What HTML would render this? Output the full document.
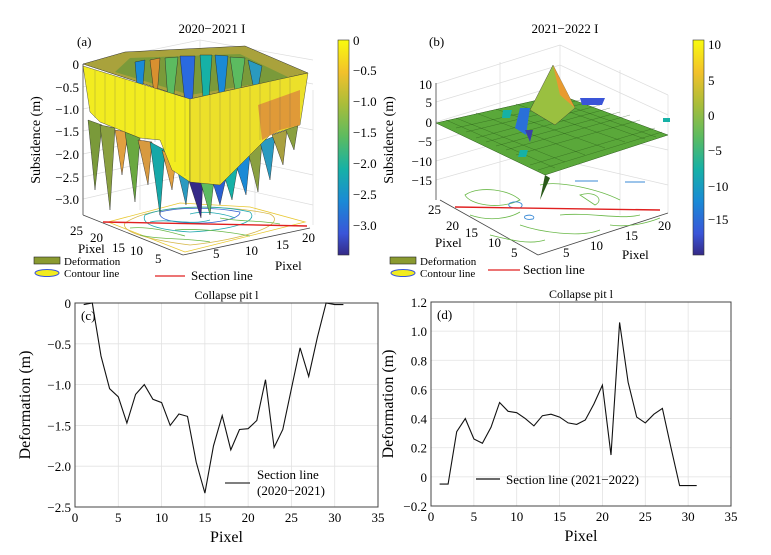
<!DOCTYPE html>
<html><head><meta charset="utf-8"><style>
body{margin:0;background:#fff;}
svg{display:block;font-family:"Liberation Serif",serif;}
</style></head><body>
<svg width="771" height="555" viewBox="0 0 771 555">
<defs>
<linearGradient id="parula" x1="0" y1="0" x2="0" y2="1">
<stop offset="0" stop-color="#f9fb0e"/><stop offset="0.15" stop-color="#f2c12b"/><stop offset="0.3" stop-color="#a9bd3a"/><stop offset="0.45" stop-color="#5cbb60"/><stop offset="0.6" stop-color="#16b1a6"/><stop offset="0.75" stop-color="#1a8ad6"/><stop offset="0.9" stop-color="#3a55d8"/><stop offset="1" stop-color="#352a87"/>
</linearGradient>
</defs>

<!-- Panel (a) -->
<g>
<text x="212" y="33" font-size="13" text-anchor="middle">2020−2021 I</text>
<text x="77" y="46" font-size="13">(a)</text>
<g stroke="#ddd" stroke-width="0.7" fill="none">
<path d="M83,64 L200,40 L313,60 M200,40 L200,200 M140,52 L140,210 M255,50 L255,215 M83,87 L200,62 L313,84 M83,109 L200,84 M83,131 L200,106 M83,154 L200,128 M83,177 L200,150 M83,199 L200,172 M313,90 L313,225 M200,108 L313,130 M200,150 L313,175 M200,180 L313,205"/>
</g>
<line x1="83" y1="64" x2="83" y2="215" stroke="#444" stroke-width="0.8"/>
<line x1="83" y1="215" x2="183" y2="255" stroke="#444" stroke-width="0.8"/>
<line x1="183" y1="255" x2="310" y2="228" stroke="#444" stroke-width="0.8"/>
<g font-size="13" text-anchor="end">
<text x="79" y="69">0</text><text x="79" y="92">−0.5</text><text x="79" y="114">−1.0</text><text x="79" y="136">−1.5</text><text x="79" y="159">−2.0</text><text x="79" y="182">−2.5</text><text x="79" y="204">−3.0</text>
</g>
<text transform="translate(40,140) rotate(-90)" font-size="14" text-anchor="middle">Subsidence (m)</text>
<g fill="none" stroke-width="0.8">
<path d="M108,222 L180,203 L250,207 L305,222 L185,252 Z" stroke="#e8c832"/>
<path d="M125,223 C150,205 220,203 270,214 C290,225 240,240 190,245 C150,240 120,232 125,223Z" stroke="#d6b84a"/>
<path d="M145,215 C170,205 220,205 250,212 C260,222 230,230 190,232 C160,230 140,225 145,215Z" stroke="#20a8b0"/>
<path d="M160,212 C180,207 215,207 240,212 C240,220 210,224 190,223 C170,222 158,219 160,212Z" stroke="#3060d0"/>
<path d="M175,230 C200,228 230,232 250,236 M140,235 C160,240 190,238 210,242 M130,228 C150,226 170,232 185,236 M220,218 C240,222 260,220 280,224" stroke="#6ab848"/>
<path d="M150,222 C170,218 190,226 210,220 M190,214 C205,210 225,214 235,218" stroke="#20a8b0"/>
</g>
<polygon points="83,64 125,52 245,46 308,73 190,99" fill="#a9a23c" stroke="#333" stroke-width="0.5"/>
<polygon points="115,72 130,58 240,54 290,78 190,95" fill="#7a9a3a"/>
<g stroke="#222" stroke-width="0.4">
<polygon points="135,62 145,60 140,120" fill="#1a8ad6"/>
<polygon points="150,60 160,58 156,110" fill="#d89030"/>
<polygon points="165,58 178,57 170,130" fill="#5cbb60"/>
<polygon points="180,56 195,56 190,150" fill="#2a6ae0"/>
<polygon points="200,55 212,55 206,140" fill="#16b1a6"/>
<polygon points="215,55 228,56 222,120" fill="#1a8ad6"/>
<polygon points="230,57 245,58 238,110" fill="#5cbb60"/>
<polygon points="248,60 262,66 256,100" fill="#2a9ac0"/>
</g>
<!-- lower dark spikes layer -->
<g stroke="#222" stroke-width="0.4">
<polygon points="88,120 102,125 95,190" fill="#7a9a3a"/>
<polygon points="100,125 115,128 110,210" fill="#8aa040"/>
<polygon points="115,130 128,132 122,175" fill="#e0a040"/>
<polygon points="125,132 140,138 135,202" fill="#6aa840"/>
<polygon points="138,140 152,142 148,185" fill="#d89a40"/>
<polygon points="150,142 165,150 160,215" fill="#16a8a8"/>
<polygon points="162,150 176,160 172,190" fill="#e0a040"/>
<polygon points="175,160 190,172 186,205" fill="#2a9ac0"/>
<polygon points="188,178 203,180 201,218" fill="#352a87"/>
<polygon points="200,180 214,180 210,215" fill="#5cbb60"/>
<polygon points="212,180 226,178 220,205" fill="#2a60d0"/>
<polygon points="224,175 238,165 232,200" fill="#16b1a6"/>
<polygon points="236,165 250,155 246,195" fill="#1a8ad6"/>
<polygon points="248,152 262,142 258,192" fill="#8aa040"/>
<polygon points="260,142 275,136 270,180" fill="#2a9ac0"/>
<polygon points="272,135 287,130 283,165" fill="#a9a040"/>
<polygon points="285,128 298,125 294,150" fill="#8aa040"/>
</g>
<polygon points="83,66 190,99 190,182 172,170 160,140 140,138 115,128 100,122 90,112" fill="#f2ec20" stroke="#333" stroke-width="0.4"/>
<polygon points="190,99 308,73 300,125 270,135 245,160 220,185 190,182" fill="#ece02a" stroke="#333" stroke-width="0.4"/>
<polygon points="258,105 300,90 300,125 280,130 262,140" fill="#e09a38"/>
<g stroke="#555" stroke-width="0.35" fill="none" opacity="0.7">
<path d="M95,70 L95,118 M105,73 L105,124 M115,76 L115,128 M125,79 L125,132 M135,82 L135,136 M145,85 L145,140 M155,88 L155,142 M165,91 L165,150 M175,94 L175,162 M185,97 L185,176 M200,97 L200,182 M210,95 L210,182 M220,93 L220,185 M230,91 L230,176 M240,89 L240,166 M250,86 L250,155 M260,84 L260,140 M270,82 L270,135 M280,80 L280,130 M290,78 L290,128"/>
</g>
<line x1="103" y1="222" x2="307" y2="226" stroke="#e02020" stroke-width="1.4"/>
<g font-size="13">
<text x="70" y="235">25</text><text x="90" y="242">20</text><text x="112" y="252">15</text><text x="130" y="255">10</text><text x="155" y="263">5</text>
<text x="213" y="258">5</text><text x="245" y="255">10</text><text x="276" y="249">15</text><text x="302" y="242">20</text>
</g>
<text x="78" y="253" font-size="13">Pixel</text>
<text x="275" y="270" font-size="13">Pixel</text>
<rect x="338" y="40" width="11" height="215" fill="url(#parula)" stroke="#333" stroke-width="0.6"/>
<g font-size="13">
<text x="353" y="45">0</text><text x="353" y="75">−0.5</text><text x="353" y="106">−1.0</text><text x="353" y="137">−1.5</text><text x="353" y="168">−2.0</text><text x="353" y="199">−2.5</text><text x="353" y="230">−3.0</text>
</g>
<g>
<rect x="34" y="257" width="26" height="7" fill="#8a9a30" stroke="#222" stroke-width="0.6"/>
<text x="64" y="265" font-size="11">Deformation</text>
<ellipse cx="47" cy="273" rx="12" ry="3.5" fill="#f2ec20" stroke="#3a55d8" stroke-width="1"/>
<text x="64" y="277" font-size="11">Contour line</text>
<line x1="155" y1="276" x2="185" y2="276" stroke="#e02020" stroke-width="1.2"/>
<text x="191" y="280" font-size="13">Section line</text>
</g>
</g>

<!-- Panel (b) -->
<g>
<text x="565" y="33" font-size="13" text-anchor="middle">2021−2022 I</text>
<text x="429" y="46" font-size="13">(b)</text>
<g stroke="#ddd" stroke-width="0.7" fill="none">
<path d="M436,84 L560,45 L668,95 M560,45 L560,190 M500,62 L500,205 M620,70 L620,215 M436,102 L560,65 L668,115 M436,122 L560,85 M436,141 L560,105 M436,161 L560,125 M436,180 L560,145 M668,95 L668,213 M560,125 L668,150 M560,160 L668,185"/>
</g>
<line x1="436" y1="83" x2="436" y2="200" stroke="#444" stroke-width="0.8"/>
<line x1="440" y1="200" x2="538" y2="255" stroke="#444" stroke-width="0.8"/>
<line x1="538" y1="255" x2="668" y2="213" stroke="#444" stroke-width="0.8"/>
<g font-size="13" text-anchor="end">
<text x="432" y="89">10</text><text x="432" y="107">5</text><text x="432" y="127">0</text><text x="432" y="146">−5</text><text x="432" y="166">−10</text><text x="432" y="185">−15</text>
</g>
<text transform="translate(393,140) rotate(-90)" font-size="14" text-anchor="middle">Subsidence (m)</text>
<g fill="none" stroke="#6ab848" stroke-width="0.8">
<path d="M465,195 C480,185 510,190 520,200 C500,210 470,205 465,195Z M540,185 C560,180 600,190 620,200 M560,215 C590,212 620,220 640,215 M520,225 C540,232 580,238 600,230 M470,215 C490,222 510,218 520,212 M580,195 C595,190 605,200 595,205Z M490,235 C510,240 530,245 545,240 M610,225 C630,228 650,222 660,218"/>
</g>
<g fill="none" stroke="#3a8ad6" stroke-width="0.9">
<path d="M510,203 C518,200 526,204 520,208 C512,209 506,206 510,203Z M525,216 C530,214 536,216 533,219 C528,220 523,219 525,216Z M575,181 L598,181 M625,182 L645,182"/>
</g>
<polygon points="436,123 560,95 668,135 545,175" fill="#5aa83a" stroke="#2a5a1a" stroke-width="0.5"/>
<g stroke="#1e4a12" stroke-width="0.35" fill="none" opacity="0.75">
<path d="M456,118 L565,162 M476,113 L585,155 M496,109 L605,148 M516,104 L625,142 M536,100 L645,139 M546,98 L656,137 M446,120 L555,168 M456,128 L580,100 M466,132 L590,102 M476,138 L600,105 M486,142 L610,108 M496,146 L620,112 M506,150 L630,115 M516,155 L640,120 M530,165 L655,128 M538,170 L662,132"/>
</g>
<polygon points="530,110 553,65 575,108 555,125" fill="#9ac040" stroke="#333" stroke-width="0.4"/>
<polygon points="553,65 560,95 575,108" fill="#e89a30"/>
<polygon points="520,108 530,108 526,135 515,128" fill="#2a70d8"/>
<polygon points="525,130 533,130 530,142" fill="#3a40a8"/>
<polygon points="580,98 605,98 602,105 582,105" fill="#3a55d8"/>
<polygon points="503,110 512,110 510,118 502,118" fill="#16b1a6"/>
<polygon points="540,200 545,175 550,178" fill="#2a5a1a"/>
<polygon points="520,150 528,150 526,157 518,157" fill="#16b1a6"/>
<polygon points="663,118 670,118 670,122 663,122" fill="#16b1a6"/>
<line x1="455" y1="207" x2="660" y2="210" stroke="#e02020" stroke-width="1.4"/>
<g font-size="13">
<text x="428" y="214">25</text><text x="446" y="230">20</text><text x="465" y="237">15</text><text x="488" y="247">10</text><text x="511" y="257">5</text>
<text x="563" y="257">5</text><text x="590" y="250">10</text><text x="625" y="240">15</text><text x="658" y="230">20</text>
</g>
<text x="435" y="247" font-size="13">Pixel</text>
<text x="622" y="259" font-size="13">Pixel</text>
<rect x="693" y="40" width="11" height="215" fill="url(#parula)" stroke="#333" stroke-width="0.6"/>
<g font-size="13">
<text x="708" y="49">10</text><text x="708" y="85">5</text><text x="708" y="120">0</text><text x="708" y="155">−5</text><text x="708" y="191">−10</text><text x="708" y="224">−15</text>
</g>
<g>
<rect x="390" y="257" width="26" height="7" fill="#8a9a30" stroke="#222" stroke-width="0.6"/>
<text x="420" y="265" font-size="11">Deformation</text>
<ellipse cx="403" cy="273" rx="12" ry="3.5" fill="#f2ec20" stroke="#3a55d8" stroke-width="1"/>
<text x="420" y="277" font-size="11">Contour line</text>
<line x1="488" y1="270" x2="520" y2="270" stroke="#e02020" stroke-width="1.2"/>
<text x="523" y="274" font-size="13">Section line</text>
</g>
</g>

<g id="chartC"></g>
<g id="chartD"></g>
</svg>
<script>
const pixelsC = [1,2,3,4,5,6,7,8,9,10,11,12,13,14,15,16,17,18,19,20,21,22,23,24,25,26,27,28,29,30,31];
const deformC = [-0.02,0,-0.65,-1.05,-1.15,-1.47,-1.12,-1.0,-1.18,-1.22,-1.5,-1.36,-1.39,-1.95,-2.33,-1.75,-1.38,-1.8,-1.55,-1.54,-1.44,-0.94,-1.77,-1.55,-1.05,-0.55,-0.9,-0.42,0,-0.02,-0.02];
const xTicksC = [0,5,10,15,20,25,30,35];
const yTicksC = [0,-0.5,-1.0,-1.5,-2.0,-2.5];
const yLabelsC = ["0","−0.5","−1.0","−1.5","−2.0","−2.5"];
const pixelsD = [1,2,3,4,5,6,7,8,9,10,11,12,13,14,15,16,17,18,19,20,21,22,23,24,25,26,27,28,29,30,31];
const deformD = [-0.05,-0.05,0.31,0.4,0.26,0.23,0.34,0.51,0.45,0.44,0.4,0.35,0.42,0.43,0.41,0.37,0.36,0.39,0.5,0.63,0.15,1.06,0.65,0.41,0.37,0.43,0.47,0.2,-0.06,-0.06,-0.06];
const xTicksD = [0,5,10,15,20,25,30,35];
const yTicksD = [1.2,1.0,0.8,0.6,0.4,0.2,0,-0.2];
const yLabelsD = ["1.2","1.0","0.8","0.6","0.4","0.2","0","−0.2"];
const NS='http://www.w3.org/2000/svg';
function mk(p,tag,attrs,txt){const e=document.createElementNS(NS,tag);for(const k in attrs)e.setAttribute(k,attrs[k]);if(txt!==undefined)e.textContent=txt;p.appendChild(e);return e;}
function drawChart(g,o){
  const sx=v=>o.x0+(v-o.xmin)/(o.xmax-o.xmin)*(o.x1-o.x0);
  const sy=v=>o.y1-(v-o.ymin)/(o.ymax-o.ymin)*(o.y1-o.y0);
  o.xt.forEach(t=>{
    const l=mk(g,'line',{x1:sx(t),x2:sx(t),y1:o.y0,y2:o.y1,stroke:'#e2e2e2','stroke-width':0.8});
    
    
    const tx=mk(g,'text',{x:sx(t),y:o.y1+15,'font-size':13,'text-anchor':'middle'},String(t));
    
    
  });
  o.yt.forEach((t,i)=>{
    const l=mk(g,'line',{x1:o.x0,x2:o.x1,y1:sy(t),y2:sy(t),stroke:'#e2e2e2','stroke-width':0.8});
    
    
    const tx=mk(g,'text',{x:o.x0-4,y:sy(t)+5,'font-size':13,'text-anchor':'end'},o.yl[i]);
    
    
  });
  const fr=mk(g,'rect',{x:o.x0,y:o.y0,width:o.x1-o.x0,height:o.y1-o.y0,fill:'none',stroke:'#444','stroke-width':1});
  
  
  const pts=o.xs.map((x,i)=>sx(x).toFixed(1)+','+sy(o.ys[i]).toFixed(1)).join(' ');
  const pl=mk(g,'polyline',{points:pts,fill:'none',stroke:'#111','stroke-width':1.1});
  
  
  const ti=mk(g,'text',{x:(o.x0+o.x1)/2,y:o.y0-4,'font-size':12,'text-anchor':'middle'},'Collapse pit l');
  
  
  const lb=mk(g,'text',{x:o.x0+6,y:o.y0+17,'font-size':13},o.label);
  
  
  const xt=mk(g,'text',{x:(o.x0+o.x1)/2,y:o.y1+35,'font-size':16,'text-anchor':'middle'},'Pixel');
  
  
  const yt=mk(g,'text',{transform:`translate(${o.tx},${(o.y0+o.y1)/2}) rotate(-90)`,'font-size':16,'text-anchor':'middle'},'Deformation (m)');
  
  
}
const gc=document.getElementById('chartC');
drawChart(gc,{x0:75,x1:378,y0:303,y1:507,xmin:0,xmax:35,ymin:-2.5,ymax:0,xt:xTicksC,yt:yTicksC,yl:yLabelsC,xs:pixelsC,ys:deformC,label:'(c)',tx:30});
const lc=mk(gc,'line',{x1:225,x2:250,y1:483,y2:483,stroke:'#333','stroke-width':1.2});


const lt1=mk(gc,'text',{x:257,y:479,'font-size':13},'Section line');


const lt2=mk(gc,'text',{x:257,y:495,'font-size':13},'(2020−2021)');


const gd=document.getElementById('chartD');
drawChart(gd,{x0:431,x1:731,y0:302,y1:506,xmin:0,xmax:35,ymin:-0.2,ymax:1.2,xt:xTicksD,yt:yTicksD,yl:yLabelsD,xs:pixelsD,ys:deformD,label:'(d)',tx:393});
const ld=mk(gd,'line',{x1:476,x2:500,y1:479,y2:479,stroke:'#111','stroke-width':1.2});


const lt3=mk(gd,'text',{x:506,y:484,'font-size':13},'Section line (2021−2022)');


</script>
</body></html>
